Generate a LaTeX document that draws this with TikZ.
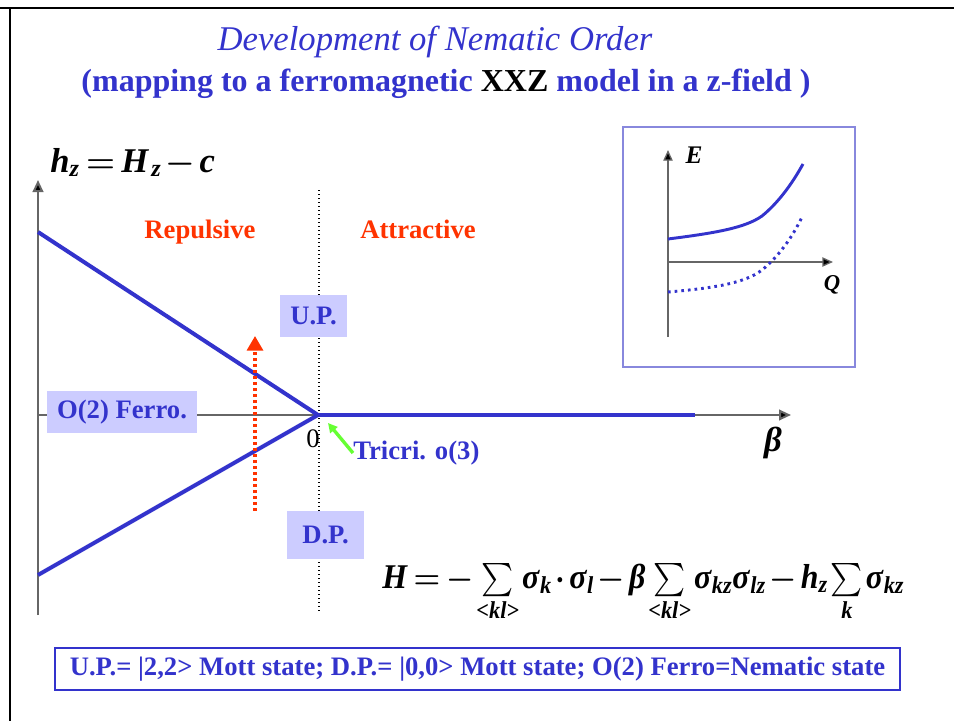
\documentclass[tikz,border=0pt]{standalone}
\usepackage{fontspec}
\setmainfont{Liberation Serif}
\usepackage{amsmath}
\usepackage{graphicx}
\usetikzlibrary{arrows.meta, positioning}
\definecolor{txtblue}{HTML}{3333CC}
\definecolor{lavender}{HTML}{CCCCFF}
\definecolor{hotred}{HTML}{FF3300}
\definecolor{limegreen}{HTML}{66FF33}
\definecolor{insetblue}{HTML}{8888DD}
\definecolor{axisgray}{HTML}{666666}
% bold italic letters from the text font
\newcommand{\bisym}[1]{\textbf{\textit{#1}}}
\newcommand{\tightmath}{\thinmuskip=1.5mu\relax\medmuskip=2mu\relax\thickmuskip=3mu\relax}

\begin{document}
\begin{tikzpicture}[
    x=0.75pt, y=-0.75pt,
    bluetext/.style={font=\fontsize{20}{24}\selectfont\bfseries, text=txtblue, inner sep=0pt},
    phase/.style={bluetext, fill=lavender, minimum height=31.5pt, inner xsep=7.5pt},
    region/.style={font=\fontsize{20}{24}\selectfont\bfseries, text=hotred, anchor=base},
    formula/.style={font=\fontsize{26}{30}\selectfont\boldmath},
    axis/.style={draw=axisgray, line width=1.5pt, -{Triangle[length=9pt, width=8pt, fill=black]}},
    border/.style={black, line width=2pt},
    boundary/.style={txtblue, line width=3pt},
    inset/.style={draw=insetblue, line width=1pt},
]
\useasboundingbox (0,0) rectangle (954,721);

% slide frame
\draw[border] (0,8) -- (954,8);
\draw[border] (10,8) -- (10,721);

% titles
\node[font=\fontsize{26}{30}\selectfont\itshape, text=txtblue] (title) at (435,42) {Development of Nematic Order};
\node[font=\fontsize{24}{28}\selectfont\bfseries, text=txtblue] (subtitle) at (446,84)
    {(mapping to a ferromagnetic \textcolor{black}{XXZ} model in a z-field )};

% axes
\coordinate (vbot)  at (38,615);
\coordinate (vtop)  at (38,180);
\coordinate (hleft) at (38,415);
\coordinate (hright) at (791,415);
\coordinate (tri)   at (318,415);
\draw[axis] (vbot) -- (vtop);
\draw[axis] (hleft) -- (hright);
\node[formula, anchor=base west, inner sep=0pt] (hz) at (50,172) {$\tightmath\bisym{h}_{\bisym{z}} = \bisym{H}_{\,\bisym{z}} - \bisym{c}$};
\node[formula] (beta) at (773,443) {$\bisym{β}$};
\node[font=\fontsize{20}{24}\selectfont] (zero) at (313,439) {0};

% divider between the two regimes
\coordinate (divtop) at (319,190);
\coordinate (divbot) at (319,612);
\draw[black, line width=1pt, dotted] (divtop) -- (divbot);

\node[region] (rep) at (200,238) {Repulsive};
\node[region] (att) at (418,238) {Attractive};

% phase boundaries
\coordinate (upend)    at (38,232);
\coordinate (dnend)    at (38,575);
\coordinate (ferroend) at (695,415);
\draw[boundary] (upend) -- (tri) -- (dnend);
\draw[boundary] (tri) -- (ferroend);

% phase labels
\node[phase] (up)    at (313.5,316) {U.P.};
\node[phase, minimum width=112.5pt] (ferro) at (122,412) {O(2) Ferro.};
\node[phase, minimum width=57.75pt, minimum height=36pt] (dp) at (325.5,535) {D.P.};

% path across the transition
\coordinate (pathbot) at (255,511);
\coordinate (pathtop) at (255,336);
\draw[hotred, line width=2.5pt, dash pattern=on 2.25pt off 2.25pt,
    -{Triangle[length=11pt, width=12pt, fill=hotred]}] (pathbot) -- (pathtop);

% tricritical point
\node[bluetext, anchor=west] (tcp) at (353,453) {Tricri. o(3)};
\coordinate (tcptip) at (328,423);
\draw[limegreen, line width=2.5pt, -{Triangle[length=7pt, width=7pt]}] (tcp.west) -- (tcptip);

% inset: E vs Q
\draw[inset] (623,127) rectangle (855,367);
\coordinate (ebot)  at (668,337);
\coordinate (etop)  at (668,150);
\coordinate (qleft) at (668,262);
\coordinate (qright) at (833,262);
\draw[axis, line width=1pt, -{Triangle[length=8pt, width=7pt, fill=black]}] (ebot) -- (etop);
\draw[axis, line width=1pt, -{Triangle[length=8pt, width=7pt, fill=black]}] (qleft) -- (qright);
\node[font=\fontsize{19}{22}\selectfont] (elab) at (694,155) {\bisym{E}};
\node[font=\fontsize{17}{20}\selectfont] (qlab) at (832,285) {\bisym{Q}};
\draw[boundary, line width=2.2pt] (668,239) .. controls (715,233) and (745,228) .. (762,216)
    .. controls (778,203) and (792,184) .. (803,164);
\draw[boundary, line width=2.2pt, dash pattern=on 2pt off 3pt] (668,292) .. controls (715,288) and (745,283) .. (762,270)
    .. controls (778,257) and (792,238) .. (802,217);

% Hamiltonian
\node[formula, anchor=base west, inner sep=0pt] (ham) at (382,588)
    {\resizebox{391.5pt}{\height}{$\tightmath\bisym{H} = -\sum\limits_{\bisym{<kl>}}\bisym{σ}_{\bisym{k}}\cdot\bisym{σ}_{\bisym{l}} - \bisym{β}\sum\limits_{\bisym{<kl>}}\bisym{σ}_{\bisym{kz}}\bisym{σ}_{\bisym{lz}} - \bisym{h}_{\bisym{z}}\sum\limits_{\bisym{k}}\bisym{σ}_{\bisym{kz}}$}};

% legend
\node[bluetext, draw=txtblue, line width=1.2pt, minimum width=633.75pt, minimum height=31.5pt] (legend) at (477.5,669)
    {U.P.= |2,2> Mott state; D.P.= |0,0> Mott state; O(2) Ferro=Nematic state};

\end{tikzpicture}
\end{document}
